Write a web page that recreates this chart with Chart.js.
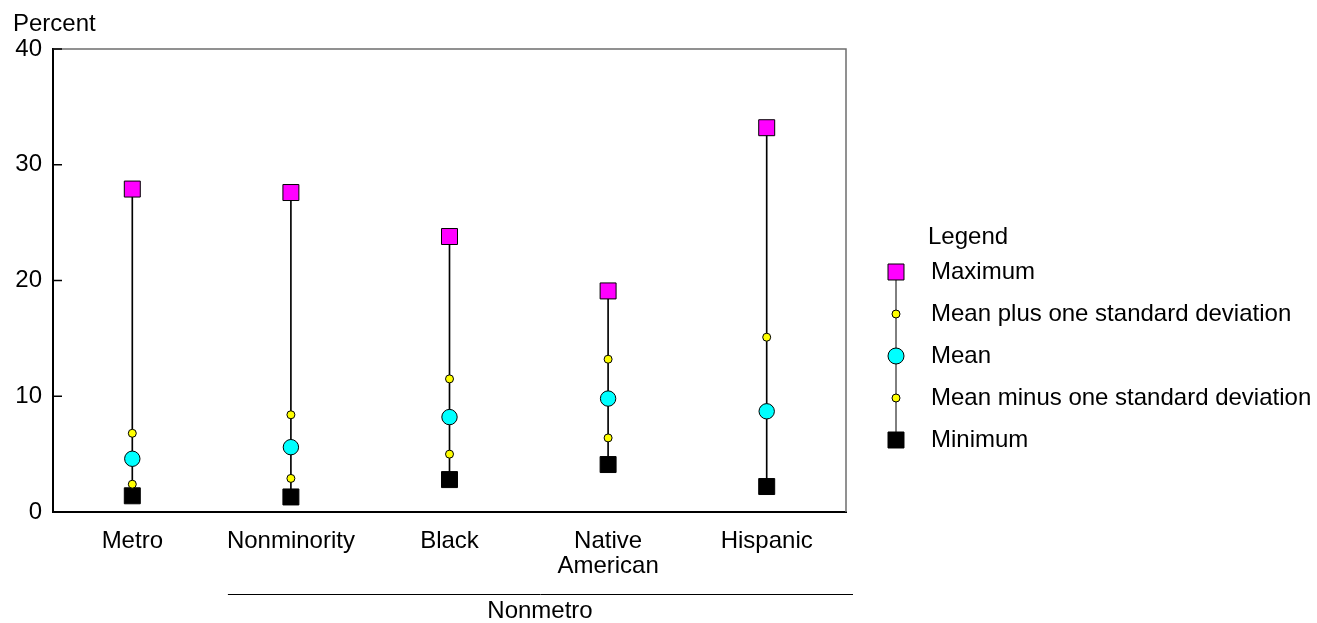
<!DOCTYPE html>
<html>
<head>
<meta charset="utf-8">
<script src="https://cdn.jsdelivr.net/npm/chart.js@4/dist/chart.umd.min.js"></script>
<style>
  html, body { margin: 0; padding: 0; background: #fff; }
  #wrap { width: 1317px; height: 623px; position: relative; }
</style>
</head>
<body>
<div id="wrap"><canvas id="rangeChart"></canvas></div>
<script>
// values (percent)
const categories = ['Metro', 'Nonminority', 'Black', ['Native', 'American'], 'Hispanic'];
const maximum   = [27.9, 27.6, 23.8, 19.1, 33.2];
const plusSd    = [6.8, 8.4, 11.5, 13.2, 15.1];
const meanVals  = [4.6, 5.6, 8.2, 9.8, 8.7];
const minusSd   = [2.4, 2.9, 5.0, 6.4, null];
const minimum   = [1.4, 1.3, 2.8, 4.1, 2.2];
const yTicks    = [0, 10, 20, 30, 40];

const FONT = 'Liberation Sans, Arial, sans-serif';

const legendItems = [
    { text: 'Maximum', style: 'rect', r: 11.3, fill: '#ff00ff' },
    { text: 'Mean plus one standard deviation', style: 'circle', r: 4, fill: '#ffff00' },
    { text: 'Mean', style: 'circle', r: 8, fill: '#00ffff' },
    { text: 'Mean minus one standard deviation', style: 'circle', r: 4, fill: '#ffff00' },
    { text: 'Minimum', style: 'rect', r: 11.3, fill: '#000000' }
];

function marker(ctx, style, r, x, y, fill) {
    ctx.save();
    ctx.fillStyle = fill;
    ctx.strokeStyle = '#000';
    ctx.lineWidth = 1;
    ctx.beginPath();
    if (style === 'rect') {
        const s = r * Math.SQRT1_2;
        ctx.rect(x - s, y - s, 2 * s, 2 * s);
    } else {
        ctx.arc(x, y, r, 0, Math.PI * 2);
    }
    ctx.fill();
    ctx.stroke();
    ctx.restore();
}

const extras = {
    id: 'extras',
    afterDraw(chart) {
        const ctx = chart.ctx;
        const a = chart.chartArea;
        const y = chart.scales.y;
        ctx.save();
        // top / right frame in grey
        ctx.strokeStyle = '#6e6e6e';
        ctx.lineWidth = 1.5;
        ctx.beginPath();
        ctx.moveTo(a.left, a.top);
        ctx.lineTo(a.right, a.top);
        ctx.lineTo(a.right, a.bottom);
        ctx.stroke();
        // inward y ticks
        ctx.strokeStyle = '#000';
        ctx.lineWidth = 1.5;
        yTicks.forEach(v => {
            const py = y.getPixelForValue(v);
            ctx.beginPath();
            ctx.moveTo(a.left, py);
            ctx.lineTo(a.left + 9, py);
            ctx.stroke();
        });
        // axis title
        ctx.fillStyle = '#000';
        ctx.font = '24px ' + FONT;
        ctx.textAlign = 'left';
        ctx.textBaseline = 'middle';
        ctx.fillText('Percent', 13, 24);
        // Nonmetro group bracket
        const x = chart.scales.x;
        const x0 = x.getPixelForValue(1) - 63;
        ctx.lineWidth = 1;
        ctx.beginPath();
        ctx.moveTo(x0, 594.5);
        ctx.lineTo(853, 594.5);
        ctx.stroke();
        ctx.textAlign = 'center';
        ctx.fillText('Nonmetro', 540, 611);
        // legend
        ctx.textAlign = 'left';
        ctx.fillText('Legend', 928, 237);
        const lx = 896;
        const ys = [272, 314, 356, 398, 440];
        ctx.beginPath();
        ctx.moveTo(lx, ys[0]);
        ctx.lineTo(lx, ys[4]);
        ctx.stroke();
        legendItems.forEach((it, i) => {
            marker(ctx, it.style, it.r, lx, ys[i], it.fill);
            ctx.fillStyle = '#000';
            ctx.fillText(it.text, 931, ys[i]);
        });
        ctx.restore();
    }
};

function pointSet(label, data, style, radius, color) {
    return {
        type: 'line',
        label: label,
        data: data,
        showLine: false,
        pointStyle: style,
        pointRadius: radius,
        pointHoverRadius: radius,
        pointBackgroundColor: color,
        pointBorderColor: '#000',
        pointBorderWidth: 1,
        order: 1
    };
}

new Chart(document.getElementById('rangeChart'), {
    type: 'bar',
    data: {
        labels: categories,
        datasets: [
            {
                label: 'range',
                data: minimum.map((m, i) => [m, maximum[i]]),
                backgroundColor: '#000',
                barThickness: 1,
                order: 10
            },
            pointSet('Maximum', maximum, 'rect', 11.3, '#ff00ff'),
            pointSet('Mean plus one standard deviation', plusSd, 'circle', 4, '#ffff00'),
            pointSet('Mean', meanVals, 'circle', 7.7, '#00ffff'),
            pointSet('Mean minus one standard deviation', minusSd, 'circle', 4, '#ffff00'),
            pointSet('Minimum', minimum, 'rect', 11.3, '#000000')
        ]
    },
    options: {
        responsive: true,
        maintainAspectRatio: false,
        animation: false,
        layout: { padding: { top: 49, right: 471, bottom: 0, left: 0 } },
        plugins: {
            legend: { display: false },
            tooltip: { enabled: false }
        },
        scales: {
            x: {
                offset: true,
                grid: { display: false, drawTicks: false },
                border: { color: '#000', width: 2 },
                ticks: {
                    color: '#000',
                    font: { family: FONT, size: 24, lineHeight: 1.05 },
                    padding: 17,
                    maxRotation: 0,
                    autoSkip: false
                },
                afterFit(s) { s.height = 111; }
            },
            y: {
                min: 0,
                max: 40,
                grid: { display: false, drawTicks: false },
                border: { color: '#000', width: 2 },
                ticks: {
                    color: '#000',
                    font: { family: FONT, size: 24 },
                    stepSize: 10,
                    padding: 11
                },
                afterFit(s) { s.width = 53; }
            }
        }
    },
    plugins: [extras]
});
</script>
</body>
</html>
